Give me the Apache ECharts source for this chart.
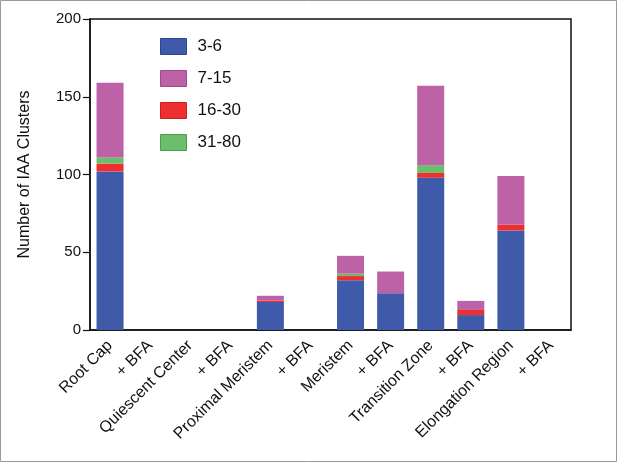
<!DOCTYPE html>
<html>
<head>
<meta charset="utf-8">
<script src="https://cdn.jsdelivr.net/npm/echarts@6/dist/echarts.min.js"></script>
<style>
html,body{margin:0;padding:0;background:#fff;}
#main{width:617px;height:462px;}
</style>
</head>
<body>
<div id="main"></div>
<script>
var categories = ['Root Cap', '+ BFA', 'Quiescent Center', '+ BFA ', 'Proximal Meristem', '+ BFA  ', 'Meristem', '+ BFA   ', 'Transition Zone', '+ BFA    ', 'Elongation Region', '+ BFA     '];
var s3_6   = [102, 0, 0, 0, 18, 0, 32, 23.6, 98, 9.6, 64, 0];
var s16_30 = [5, 0, 0, 0, 1, 0, 2.7, 0, 3, 3.3, 3.7, 0];
var s31_80 = [4, 0, 0, 0, 0, 0, 1.5, 0, 5, 0, 0, 0];
var s7_15  = [48, 0, 0, 0, 3, 0, 11.5, 14, 51, 5.8, 31.3, 0];
var yTicks = [0, 50, 100, 150, 200];

var chart = echarts.init(document.getElementById('main'));
var font = 'Liberation Sans, Arial, sans-serif';
function ser(name, data, color, border) {
  return {name: name, type: 'bar', stack: 'total', data: data, barWidth: 27,
    itemStyle: {color: color, borderColor: border, borderWidth: 0}, emphasis: {disabled: true}};
}
chart.setOption({
  animation: false,
  graphic: [{type: 'rect', shape: {x: 0.5, y: 0.5, width: 616, height: 461},
    style: {fill: 'none', stroke: '#9a9a9a', lineWidth: 1}, silent: true}],
  grid: {left: 90, top: 19, right: 46, bottom: 132, show: true, borderColor: '#111', borderWidth: 1.5, backgroundColor: 'transparent'},
  legend: {
    data: ['3-6', '7-15', '16-30', '31-80'],
    orient: 'vertical', left: 155, top: 33, itemWidth: 26, itemHeight: 16, itemGap: 15,
    icon: 'rect',
    itemStyle: {borderWidth: 1, borderColor: 'inherit'},
    textStyle: {fontFamily: font, fontSize: 17, color: '#111', padding: [0, 0, 0, 6]},
    selectedMode: false
  },
  xAxis: {
    type: 'category', data: categories,
    axisLine: {lineStyle: {color: '#111', width: 1.5}},
    axisTick: {alignWithLabel: true, length: 6, lineStyle: {color: '#111', width: 1.2}},
    axisLabel: {rotate: 45, interval: 0, fontFamily: font, fontSize: 16, color: '#111', margin: 13,
      formatter: function (v) { return v.trim(); }}
  },
  yAxis: {
    type: 'value', min: 0, max: 200, interval: 50,
    name: 'Number of IAA Clusters', nameLocation: 'middle', nameGap: 57,
    nameTextStyle: {fontFamily: font, fontSize: 16, color: '#111'},
    axisLine: {show: true, lineStyle: {color: '#111', width: 1.5}},
    axisTick: {show: true, length: 7, lineStyle: {color: '#111', width: 1.2}},
    axisLabel: {fontFamily: font, fontSize: 15, color: '#111', margin: 9},
    splitLine: {show: false}
  },
  series: [
    ser('3-6', s3_6, '#3F5AA8', '#2E4590'),
    ser('16-30', s16_30, '#EE2E2F', '#C22222'),
    ser('31-80', s31_80, '#6CBF6A', '#4E9A4E'),
    ser('7-15', s7_15, '#BD62A6', '#9A4C88')
  ]
});
</script>
</body>
</html>
